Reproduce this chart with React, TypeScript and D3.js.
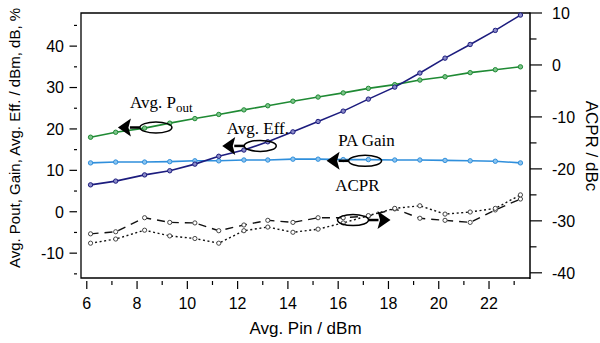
import React from "react";
import * as d3 from "d3";

const pin = [6.15, 7.15, 8.3, 9.3, 10.3, 11.25, 12.25, 13.2, 14.2, 15.2, 16.2, 17.2, 18.25, 19.25, 20.25, 21.25, 22.25, 23.25];
const pout = [18.0, 19.2, 20.2, 21.4, 22.5, 23.5, 24.6, 25.6, 26.7, 27.7, 28.7, 29.8, 30.7, 31.8, 32.6, 33.6, 34.3, 35.0];
const eff = [6.5, 7.4, 8.9, 9.9, 11.5, 13.4, 14.9, 16.9, 19.3, 21.8, 24.3, 27.2, 30.1, 33.5, 37.1, 40.4, 43.8, 47.5];
const gain = [11.8, 12.0, 12.0, 12.1, 12.3, 12.3, 12.5, 12.5, 12.7, 12.7, 12.6, 12.6, 12.5, 12.5, 12.4, 12.3, 12.2, 11.8];
const acprDash = [-32.5, -32.1, -29.4, -30.3, -30.4, -31.9, -30.8, -29.9, -30.3, -29.4, -29.4, -29.1, -27.7, -29.5, -29.9, -30.3, -27.9, -25.8];
const acprDot = [-34.3, -33.5, -31.8, -32.9, -33.4, -34.3, -31.9, -31.2, -32.2, -31.6, -30.4, -29.0, -27.6, -27.1, -28.7, -28.3, -27.6, -25.0];

const xMajor = [6, 8, 10, 12, 14, 16, 18, 20, 22];
const xMinor = [7, 9, 11, 13, 15, 17, 19, 21, 23];
const yLMajor = [-10, 0, 10, 20, 30, 40];
const yLMinor = [-15, -5, 5, 15, 25, 35, 45];
const yRMajor = [-40, -30, -20, -10, 0, 10];
const yRMinor = [-35, -25, -15, -5, 5];

// annotations in data units (left axis): label start/baseline, ellipse centre, arrow direction
const notes = [
  { text: "Avg. P", sub: "out", tx: 7.72, ty: 25.0, ex: 8.75, ey: 20.35, dir: -1, rx: 16 },
  { text: "Avg. Eff.", sub: "", tx: 11.57, ty: 18.8, ex: 12.9, ey: 15.9, dir: -1, rx: 16 },
  { text: "PA Gain", sub: "", tx: 16.0, ty: 16.0, ex: 17.07, ey: 12.3, dir: -1, rx: 16.5 },
  { text: "ACPR", sub: "", tx: 15.88, ty: 5.0, ex: 16.59, ey: -2.0, dir: 1, rx: 15.5 },
];

const W = 600, H = 343;
const L = 81, R = 530, T = 13, B = 278;

export default function App() {
  const x = d3.scaleLinear().domain([5.77, 23.63]).range([L, R]);
  const yL = d3.scaleLinear().domain([-16, 48]).range([B, T]);
  const yR = d3.scaleLinear().domain([-41, 10]).range([B, T]);

  const lineL = (vals: number[]) =>
    d3.line<number>().x((_, i) => x(pin[i])).y((d) => yL(d))(vals) || "";
  const lineR = (vals: number[]) =>
    d3.line<number>().x((_, i) => x(pin[i])).y((d) => yR(d))(vals) || "";

  const series = [
    { vals: gain, color: "#2f8fdc", fill: "#8cc4ef" },
    { vals: pout, color: "#1f8a34", fill: "#7cc48a" },
    { vals: eff, color: "#1c1c7e", fill: "#8a8ac8" },
  ];

  const sans = "'Liberation Sans', Arial, sans-serif";
  const serif = "'Liberation Serif', 'Times New Roman', serif";

  return (
    <svg width={W} height={H} style={{ position: "absolute", left: 0, top: 0, background: "#fff" }}>
      {/* frame */}
      <path d={`M${R},${T} L${L},${T} L${L},${B} L${R},${B}`} fill="none" stroke="#000" strokeWidth={1.3} />
      <line x1={R} y1={T - 0.6} x2={R} y2={B + 1} stroke="#000" strokeWidth={1.5} />

      {/* left ticks (offset) */}
      {yLMajor.map((v) => (
        <g key={"lm" + v}>
          <line x1={69.5} x2={77} y1={yL(v)} y2={yL(v)} stroke="#000" strokeWidth={1.2} />
          <text x={64} y={yL(v)} dy="0.36em" textAnchor="end" fontFamily={sans} fontSize={16}>{v}</text>
        </g>
      ))}
      {yLMinor.map((v) => (
        <line key={"ln" + v} x1={74} x2={77} y1={yL(v)} y2={yL(v)} stroke="#000" strokeWidth={1.2} />
      ))}

      {/* right ticks */}
      {yRMajor.map((v) => (
        <g key={"rm" + v}>
          <line x1={R} x2={542} y1={yR(v)} y2={yR(v)} stroke="#000" strokeWidth={1.2} />
          <text x={552} y={yR(v)} dy="0.36em" textAnchor="start" fontFamily={sans} fontSize={16}>{v}</text>
        </g>
      ))}
      {yRMinor.map((v) => (
        <line key={"rn" + v} x1={R} x2={536.5} y1={yR(v)} y2={yR(v)} stroke="#000" strokeWidth={1.2} />
      ))}

      {/* bottom ticks (offset) */}
      {xMajor.map((v) => (
        <g key={"xm" + v}>
          <line x1={x(v)} x2={x(v)} y1={281} y2={289} stroke="#000" strokeWidth={1.2} />
          <text x={x(v)} y={309} textAnchor="middle" fontFamily={sans} fontSize={16}>{v}</text>
        </g>
      ))}
      {xMinor.map((v) => (
        <line key={"xn" + v} x1={x(v)} x2={x(v)} y1={281} y2={285} stroke="#000" strokeWidth={1.2} />
      ))}

      {/* axis titles */}
      <text x={(L + R) / 2} y={334} textAnchor="middle" fontFamily={sans} fontSize={17}>Avg. Pin / dBm</text>
      <text transform="translate(19.5,138) rotate(-90)" textAnchor="middle" fontFamily={sans} fontSize={15}>
        Avg. Pout, Gain, Avg. Eff. / dBm, dB, %
      </text>
      <text transform="translate(586,146) rotate(90)" textAnchor="middle" fontFamily={sans} fontSize={17}>
        ACPR / dBc
      </text>

      {/* ACPR series */}
      <path d={lineR(acprDash)} fill="none" stroke="#111" strokeWidth={1.4} strokeDasharray="8,6" />
      <path d={lineR(acprDot)} fill="none" stroke="#111" strokeWidth={1.4} strokeDasharray="2,2.6" />
      {acprDash.map((v, i) => (
        <circle key={"ad" + i} cx={x(pin[i])} cy={yR(v)} r={2.1} fill="#fff" stroke="#444" strokeWidth={1} />
      ))}
      {acprDot.map((v, i) => (
        <circle key={"ao" + i} cx={x(pin[i])} cy={yR(v)} r={2.1} fill="#fff" stroke="#444" strokeWidth={1} />
      ))}

      {/* left axis series */}
      {series.map((s, k) => (
        <g key={"s" + k}>
          <path d={lineL(s.vals)} fill="none" stroke={s.color} strokeWidth={1.6} />
          {s.vals.map((v, i) => (
            <circle key={i} cx={x(pin[i])} cy={yL(v)} r={2.2} fill={s.fill} stroke={s.color} strokeWidth={1} />
          ))}
        </g>
      ))}

      {/* annotations */}
      {notes.map((n, k) => {
        const ex = x(n.ex), ey = yL(n.ey);
        const edge = ex + n.dir * n.rx;
        const back = edge + n.dir * 9;
        const tip = back + n.dir * 13;
        const head = `M${tip},${ey} L${back},${ey - 9} L${back + n.dir * 2.5},${ey} L${back},${ey + 9} Z`;
        return (
          <g key={"n" + k}>
            <text x={x(n.tx)} y={yL(n.ty)} fontFamily={serif} fontSize={17}>
              {n.text}
              {n.sub && <tspan dy={4} fontSize={13}>{n.sub}</tspan>}
            </text>
            <ellipse cx={ex} cy={ey} rx={n.rx} ry={5.5} fill="none" stroke="#000" strokeWidth={1.5} />
            <line x1={edge} x2={back + n.dir * 1} y1={ey} y2={ey} stroke="#000" strokeWidth={2.5} />
            <path d={head} fill="#000" />
          </g>
        );
      })}
    </svg>
  );
}
